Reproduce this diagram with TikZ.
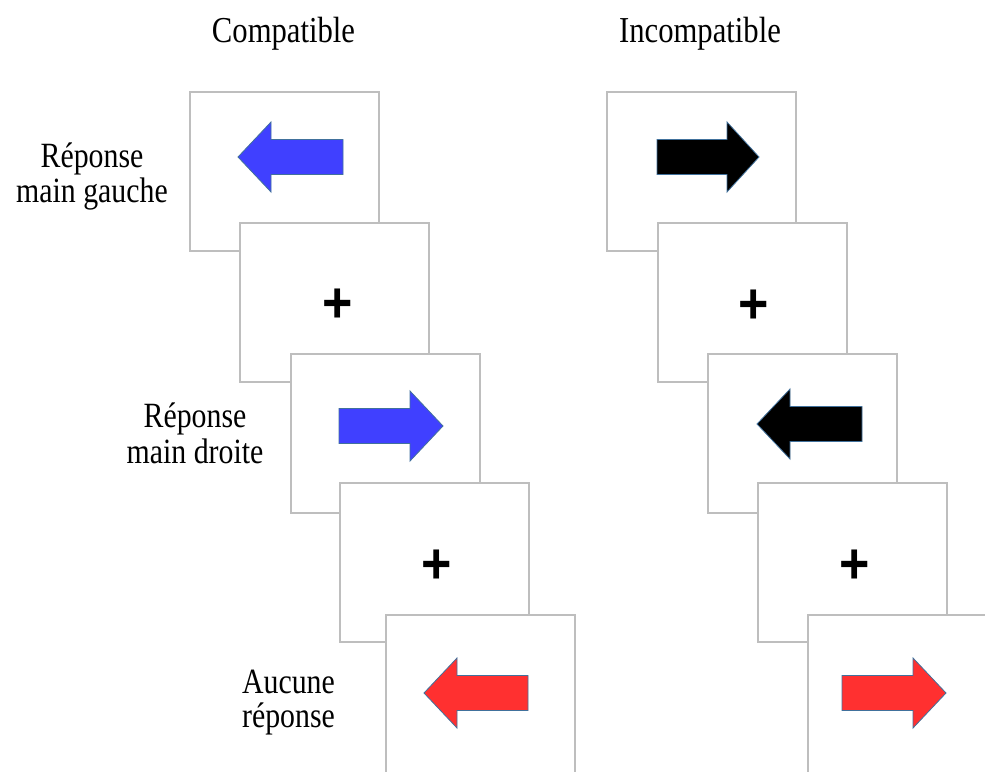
\documentclass[tikz,border=0pt]{standalone}
\usepackage{fontspec}
\setmainfont{Liberation Serif}[FakeStretch=0.84]
\newfontfamily\plusfont{Liberation Sans}
\definecolor{framegrey}{RGB}{190,190,190}
\definecolor{stimblue}{RGB}{64,64,255}
\definecolor{stimred}{RGB}{255,48,48}
\definecolor{stimblack}{RGB}{0,0,0}
\definecolor{outlineblue}{RGB}{65,113,156}
\tikzset{
  stimframe/.style={draw=framegrey, line width=1.5pt, fill=white, minimum width=189pt, minimum height=159pt, inner sep=0pt, anchor=north west},
  stimshape/.style={draw=outlineblue, line width=0.8pt, line join=miter},
  toplabel/.style={font=\fontsize{36.5}{40}\selectfont, anchor=base, inner sep=0pt},
  sidelabel/.style={font=\fontsize{35.5}{38}\selectfont, anchor=base, inner sep=0pt},
  fixcross/.style={font=\plusfont\bfseries\fontsize{52}{60}\selectfont, anchor=base, inner sep=0pt}
}
% tail x, head-base x, tip x, centre y, colour
\newcommand{\stimarrow}[5]{%
  \filldraw[stimshape, fill=#5] (#1,#4-17.5) -- (#2,#4-17.5) -- (#2,#4-35) -- (#3,#4)
    -- (#2,#4+35) -- (#2,#4+17.5) -- (#1,#4+17.5) -- cycle;}
\begin{document}
\begin{tikzpicture}[x=1pt,y=-1pt]
\useasboundingbox (0,0) rectangle (985,771);
\clip (0,0) rectangle (985,771);
% titles
\node[toplabel] (tcomp) at (283.5,42) {Compatible};
\node[toplabel] (tinc) at (700,42) {Incompatible};
% side labels
\node[sidelabel] (la1) at (92,167) {Réponse};
\node[sidelabel] (la2) at (92,202) {main gauche};
\node[sidelabel] (lb1) at (195,427) {Réponse};
\node[sidelabel] (lb2) at (195,463) {main droite};
\node[sidelabel] (lc1) at (288.5,693) {Aucune};
\node[sidelabel] (lc2) at (288.5,727) {réponse};
% compatible column
\node[stimframe] (L1) at (189,91) {};
\stimarrow{343}{271}{238}{157}{stimblue}
\node[stimframe] (L2) at (239,222) {};
\node[fixcross] (P2) at (337.5,322) {\scalebox{1}[1.1]{+}};
\node[stimframe] (L3) at (290,353) {};
\stimarrow{339}{410}{443}{426}{stimblue}
\node[stimframe] (L4) at (339,482) {};
\node[fixcross] (P4) at (437,583) {\scalebox{1}[1.1]{+}};
\node[stimframe] (L5) at (385,614) {};
\stimarrow{528}{457}{424}{693}{stimred}
% incompatible column
\node[stimframe] (R1) at (606,91) {};
\stimarrow{657}{727}{759}{157}{stimblack}
\node[stimframe] (R2) at (657,222) {};
\node[fixcross] (Q2) at (754,323) {\scalebox{1}[1.1]{+}};
\node[stimframe] (R3) at (707,353) {};
\stimarrow{862}{790}{757}{424}{stimblack}
\node[stimframe] (R4) at (757,482) {};
\node[fixcross] (Q4) at (855,583) {\scalebox{1}[1.1]{+}};
\node[stimframe] (R5) at (807,614) {};
\stimarrow{842}{913}{946}{693}{stimred}
\end{tikzpicture}
\end{document}
